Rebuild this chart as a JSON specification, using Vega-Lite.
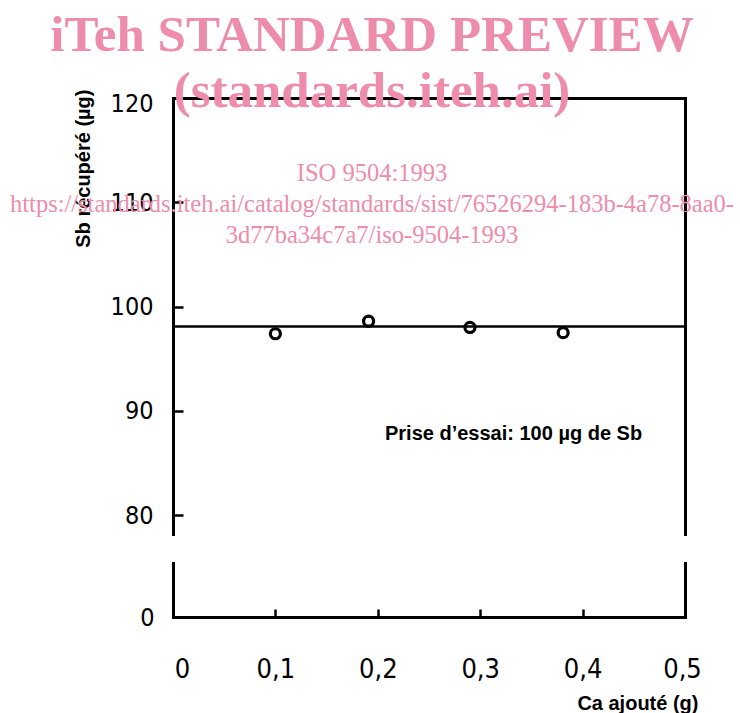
{
  "$schema": "https://vega.github.io/schema/vega-lite/v6.json",
  "background": "white",
  "padding": {"left": 10, "top": 9, "right": 0, "bottom": 0},
  "title": {
    "text": ["iTeh STANDARD PREVIEW", "(standards.iteh.ai)"],
    "subtitle": ["ISO 9504:1993", "https://standards.iteh.ai/catalog/standards/sist/76526294-183b-4a78-8aa0-", "3d77ba34c7a7/iso-9504-1993"],
    "anchor": "middle",
    "frame": "group",
    "offset": -159,
    "dx": -57,
    "font": "Liberation Serif",
    "fontSize": 51,
    "fontWeight": "bold",
    "color": "#ee8cab",
    "lineHeight": 56,
    "subtitleFont": "Liberation Serif",
    "subtitleFontSize": 24.5,
    "subtitleFontWeight": "normal",
    "subtitleColor": "#ee8cab",
    "subtitleLineHeight": 31,
    "subtitlePadding": 44
  },
  "datasets": {
    "points": [
      {"ca": 0.1, "sb": 97.4},
      {"ca": 0.191, "sb": 98.6},
      {"ca": 0.29, "sb": 98.0},
      {"ca": 0.381, "sb": 97.5}
    ],
    "mean": [{"sb": 98.1}],
    "note": [{"ca": 0.207, "sb": 87.8, "label": "Prise d’essai: 100 µg de Sb"}]
  },
  "bounds": "flush",
  "spacing": 29,
  "vconcat": [
    {
      "width": 512,
      "height": 436,
      "layer": [
        {
          "data": {"name": "mean"},
          "mark": {"type": "rule", "color": "black", "strokeWidth": 2.5},
          "encoding": {
            "y": {
              "field": "sb",
              "type": "quantitative",
              "scale": {"domain": [78.2, 120], "nice": false, "zero": false},
              "axis": {
                "orient": "left",
                "values": [80, 90, 100, 110, 120],
                "tickSize": -10,
                "labelPadding": 30,
                "labelFontSize": 25,
                "labelOffset": {"condition": {"test": "datum.value == 120", "value": 5}, "value": 0},
                "title": "Sb récupéré (µg)",
                "titleFont": "Liberation Sans",
                "titleFontSize": 20,
                "titleFontWeight": "bold",
                "titleAngle": -90,
                "titleAlign": "right",
                "titleBaseline": "middle",
                "titleX": -90,
                "titleY": -9
              }
            }
          }
        },
        {
          "data": {"name": "points"},
          "mark": {"type": "point", "shape": "circle", "filled": false, "size": 100, "strokeWidth": 3.2, "color": "black", "opacity": 1},
          "encoding": {
            "x": {
              "field": "ca",
              "type": "quantitative",
              "scale": {"domain": [0, 0.5], "nice": false},
              "axis": {"orient": "top", "ticks": false, "labels": false, "title": null}
            },
            "y": {
              "field": "sb",
              "type": "quantitative",
              "axis": {"orient": "right", "ticks": false, "labels": false, "title": null}
            }
          }
        },
        {
          "data": {"name": "note"},
          "mark": {"type": "text", "align": "left", "baseline": "middle", "font": "Liberation Sans", "fontSize": 20, "fontWeight": "bold", "color": "black"},
          "encoding": {
            "x": {
              "field": "ca",
              "type": "quantitative",
              "axis": {"orient": "top", "ticks": false, "labels": false, "title": null}
            },
            "y": {"field": "sb", "type": "quantitative", "axis": null},
            "text": {"field": "label"}
          }
        }
      ],
      "resolve": {"axis": {"y": "independent"}}
    },
    {
      "width": 512,
      "height": 54,
      "layer": [
        {
          "data": {"name": "points"},
          "mark": {"type": "point", "clip": true, "opacity": 0},
          "encoding": {
            "x": {
              "field": "ca",
              "type": "quantitative",
              "scale": {"domain": [0, 0.5], "nice": false},
              "axis": {
                "orient": "bottom",
                "values": [0, 0.1, 0.2, 0.3, 0.4, 0.5],
                "tickSize": -8,
                "labelPadding": 60,
                "labelBaseline": "middle",
                "labelFlush": false,
                "labelFontSize": 27,
                "labelExpr": "datum.value == 0 ? '0' : replace(format(datum.value, '.1f'), '.', ',')",
                "labelOffset": {"condition": [{"test": "datum.value == 0", "value": 9}, {"test": "datum.value == 0.5", "value": -3}], "value": 0},
                "title": "Ca ajouté (g)",
                "titleFont": "Liberation Sans",
                "titleFontSize": 20,
                "titleFontWeight": "bold",
                "titleAlign": "right",
                "titleBaseline": "middle",
                "titleX": 525,
                "titleY": 86
              }
            },
            "y": {
              "field": "sb",
              "type": "quantitative",
              "scale": {"domain": [0, 5.18], "nice": false},
              "axis": {"orient": "left", "values": [0], "ticks": false, "labelPadding": 19, "labelFontSize": 25, "title": null}
            }
          }
        },
        {
          "data": {"name": "points"},
          "mark": {"type": "point", "clip": true, "opacity": 0},
          "encoding": {
            "y": {
              "field": "sb",
              "type": "quantitative",
              "axis": {"orient": "right", "ticks": false, "labels": false, "title": null}
            }
          }
        }
      ],
      "resolve": {"axis": {"y": "independent"}}
    }
  ],
  "config": {
    "view": {"stroke": null},
    "axis": {
      "grid": false,
      "domainColor": "black",
      "domainWidth": 3,
      "domainCap": "square",
      "tickColor": "black",
      "tickWidth": 2.5,
      "labelColor": "black",
      "titleColor": "black",
      "labelFont": "Liberation Sans Narrow, DejaVu Sans Condensed, sans-serif",
      "labelFontWeight": "normal"
    }
  }
}
